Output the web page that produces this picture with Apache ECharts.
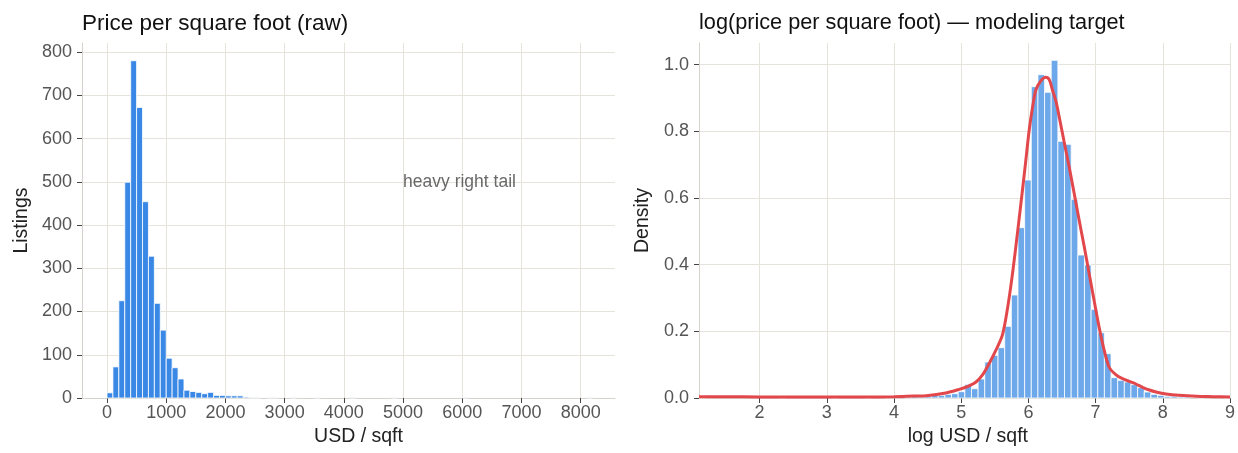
<!DOCTYPE html>
<html><head><meta charset="utf-8">
<script src="https://cdn.jsdelivr.net/npm/echarts@6/dist/echarts.min.js"></script>
<style>html,body{margin:0;padding:0;background:#fff}#c{width:1238px;height:453px}</style>
</head><body><div id="c"></div>
<script>
// ---------- data ----------
const rawBinStart = 0;
const rawBinWidth = 100;
const rawCounts = [12,72,225,499,780,672,454,328,219,157,92,70,44,18,15,13,10,13,6,6,5,5,5,2,1,1,0,1,1,0,
  0,1,0,0,0,1,0,0,0,0,0,1,0,0,0,0,0,0,1,0,0,0,0,0,0,0,0,0,0,0,1,0,0,0,0,0,0,0,0,0,0,0,0,0,0,0,0,0,0,0,0,1];
const rawXTicks = [0,1000,2000,3000,4000,5000,6000,7000,8000];
const rawYTicks = [0,100,200,300,400,500,600,700,800];

const logBinStart = 1.098;
const logBinWidth = 0.0989;
const logDensity = [0.003,0,0,0,0,0,0,0,0,0,0,0,0.003,0,0,0,0,0,0,0,0.003,0,0,0,0,0.003,0,0,0.003,0.003,
  0,0.003,0.005,0.003,0.005,0.008,0.008,0.011,0.013,0.019,0.041,0.028,0.057,0.108,0.128,0.151,0.215,0.309,0.511,0.654,
  0.934,0.970,0.917,1.013,0.770,0.761,0.596,0.429,0.399,0.266,0.196,0.133,0.061,0.053,0.048,0.040,0.031,0.018,0.011,0.008,
  0.005,0.005,0.003,0.003,0,0.003,0,0,0,0.003];
const kdeX = [1.098,1.5,2.0,2.5,3.0,3.5,4.0,4.3,4.48,4.77,4.97,5.1,5.22,5.32,5.42,5.52,5.615,5.69,5.764,5.84,5.912,5.96,6.012,6.06,6.111,6.18,6.26,6.31,6.358,6.41,6.458,6.53,6.606,6.68,6.755,6.83,6.903,6.98,7.052,7.12,7.2,7.3,7.4,7.5,7.6,7.7,7.8,7.9,8.05,8.24,8.5,8.75,9.0];
const kdeY = [0.004,0.004,0.003,0.003,0.003,0.003,0.004,0.006,0.007,0.015,0.026,0.035,0.048,0.07,0.105,0.145,0.19,0.27,0.374,0.50,0.624,0.71,0.804,0.87,0.924,0.950,0.962,0.955,0.924,0.89,0.844,0.77,0.694,0.615,0.534,0.455,0.374,0.29,0.213,0.15,0.093,0.07,0.058,0.05,0.042,0.032,0.024,0.018,0.012,0.008,0.005,0.004,0.003];
const logXTicks = [2,3,4,5,6,7,8,9];
const logYTicks = [0,0.2,0.4,0.6,0.8,1.0];
const annotation = {text: 'heavy right tail', x: 5000, y: 500};

// ---------- chart ----------
const FONT = "'Liberation Sans', Arial, sans-serif";
const rawBins = rawCounts.map((c, i) => [rawBinStart + i * rawBinWidth, rawBinStart + (i + 1) * rawBinWidth, c]).filter(d => d[2] > 0);
const logBins = logDensity.map((d, i) => [logBinStart + i * logBinWidth, logBinStart + (i + 1) * logBinWidth, d]).filter(d => d[2] > 0);

function histRender(color) {
  return function (params, api) {
    const p0 = api.coord([api.value(0), api.value(2)]);
    const p1 = api.coord([api.value(1), 0]);
    return {type: 'rect', shape: {x: p0[0], y: p0[1], width: p1[0] - p0[0], height: p1[1] - p0[1]},
      style: {fill: color, stroke: '#ffffff', lineWidth: 0.8}};
  };
}

function xAxis(grid, min, max, ticks, name, namePad) {
  return {type: 'value', gridIndex: grid, min, max, name, nameLocation: 'middle', nameGap: 29,
    nameTextStyle: {fontFamily: FONT, fontSize: 19.5, color: '#222', padding: namePad},
    axisLine: {show: true, onZero: false, lineStyle: {color: '#d6d3cc', width: 1}},
    axisTick: {show: true, customValues: ticks, length: 5, lineStyle: {color: '#444', width: 1}},
    axisLabel: {customValues: ticks, fontFamily: FONT, fontSize: 18, color: '#555', margin: 6,
      formatter: v => String(v)},
    splitLine: {show: true, lineStyle: {color: '#e6e3dc', width: 1}}};
}
function yAxis(grid, min, max, ticks, name, gap, fmt) {
  return {type: 'value', gridIndex: grid, min, max, name, nameLocation: 'middle', nameGap: gap,
    nameTextStyle: {fontFamily: FONT, fontSize: 19.5, color: '#222'},
    axisLine: {show: true, onZero: false, lineStyle: {color: '#d6d3cc', width: 1}},
    axisTick: {show: true, customValues: ticks, length: 5, lineStyle: {color: '#444', width: 1}},
    axisLabel: {customValues: ticks, fontFamily: FONT, fontSize: 18, color: '#555', margin: 10, formatter: fmt},
    splitLine: {show: true, lineStyle: {color: '#e6e3dc', width: 1}}};
}

const chart = echarts.init(document.getElementById('c'), null, {renderer: 'canvas'});
chart.setOption({
  animation: false,
  backgroundColor: '#ffffff',
  title: [
    {text: 'Price per square foot (raw)', left: 82, top: 12, padding: 0,
      textStyle: {fontFamily: FONT, fontSize: 22.5, fontWeight: 'normal', color: '#111'}},
    {text: 'log(price per square foot) — modeling target', left: 699, top: 12.5, padding: 0,
      textStyle: {fontFamily: FONT, fontSize: 21.7, fontWeight: 'normal', color: '#111'}}
  ],
  grid: [
    {left: 82, top: 43, width: 533, height: 355},
    {left: 699, top: 43, width: 532, height: 355}
  ],
  xAxis: [
    xAxis(0, -422, 8579, rawXTicks, 'USD / sqft', [0, 0, 0, 20]),
    xAxis(1, 1.098, 9.01, logXTicks, 'log USD / sqft', [0, 0, 0, 6])
  ],
  yAxis: [
    yAxis(0, 0, 821, rawYTicks, 'Listings', 50, v => String(v)),
    yAxis(1, 0, 1.065, logYTicks, 'Density', 46, v => v.toFixed(1))
  ],
  series: [
    {type: 'custom', xAxisIndex: 0, yAxisIndex: 0, renderItem: histRender('#3a88e6'),
      encode: {x: [0, 1], y: 2}, data: rawBins, silent: true},
    {type: 'scatter', xAxisIndex: 0, yAxisIndex: 0, symbolSize: 0, silent: true,
      data: [[annotation.x, annotation.y]],
      label: {show: true, position: 'right', distance: 0, formatter: annotation.text,
        fontFamily: FONT, fontSize: 17.5, color: '#444'}},
    {type: 'custom', xAxisIndex: 1, yAxisIndex: 1, renderItem: histRender('#6ca8ea'),
      encode: {x: [0, 1], y: 2}, data: logBins, silent: true},
    {type: 'line', xAxisIndex: 1, yAxisIndex: 1, showSymbol: false, smooth: 0.3, silent: true,
      lineStyle: {color: '#e2474b', width: 3}, data: kdeX.map((x, i) => [x, kdeY[i]])}
  ]
});
</script></body></html>
